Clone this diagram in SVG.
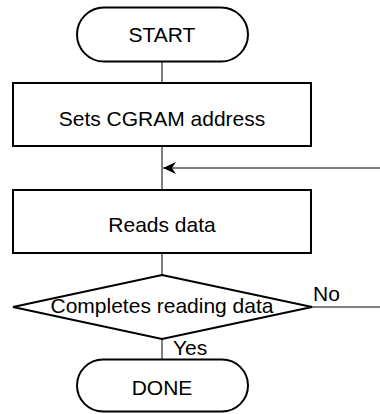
<svg xmlns="http://www.w3.org/2000/svg" width="380" height="414" viewBox="0 0 380 414">
<style>
.shape{fill:#fff;stroke:#000;stroke-width:2}
.line{fill:none;stroke:#000;stroke-width:1}
text{font-family:"Liberation Sans",Arial,sans-serif;font-size:21px;fill:#000}
.c{text-anchor:middle}
</style>
<defs>
<marker id="arr" viewBox="0 0 14 12" refX="13" refY="6" markerWidth="14" markerHeight="12" markerUnits="userSpaceOnUse" orient="auto">
<path d="M13,6 L0,0 L4,6 L0,12 Z" fill="#000"/>
</marker>
</defs>
<g id="connectors">
<line class="line" x1="162" y1="62" x2="162" y2="83"/>
<line class="line" x1="162" y1="146" x2="162" y2="190"/>
<line class="line" x1="380" y1="168" x2="163" y2="168" marker-end="url(#arr)"/>
<line class="line" x1="162" y1="253" x2="162" y2="275"/>
<line class="line" x1="312" y1="307" x2="380" y2="307"/>
<line class="line" x1="162" y1="339" x2="162" y2="359.5"/>
</g>
<g id="start">
<rect class="shape" x="77" y="7.5" width="171" height="54" rx="27" ry="27"/>
<text class="c" x="162" y="42">START</text>
</g>
<g id="set-address">
<rect class="shape" x="13" y="83" width="298" height="63"/>
<text class="c" x="162" y="125.5">Sets CGRAM address</text>
</g>
<g id="read-data">
<rect class="shape" x="13" y="190" width="298" height="63"/>
<text class="c" x="162" y="232">Reads data</text>
</g>
<g id="decision">
<polygon class="shape" points="162,275 312,307 162,339 13,307"/>
<text class="c" x="162" y="313">Completes reading data</text>
<text x="313" y="301">No</text>
<text x="173" y="355">Yes</text>
</g>
<g id="done">
<rect class="shape" x="77" y="359.5" width="171" height="52" rx="26" ry="26"/>
<text class="c" x="162" y="395">DONE</text>
</g>
</svg>
